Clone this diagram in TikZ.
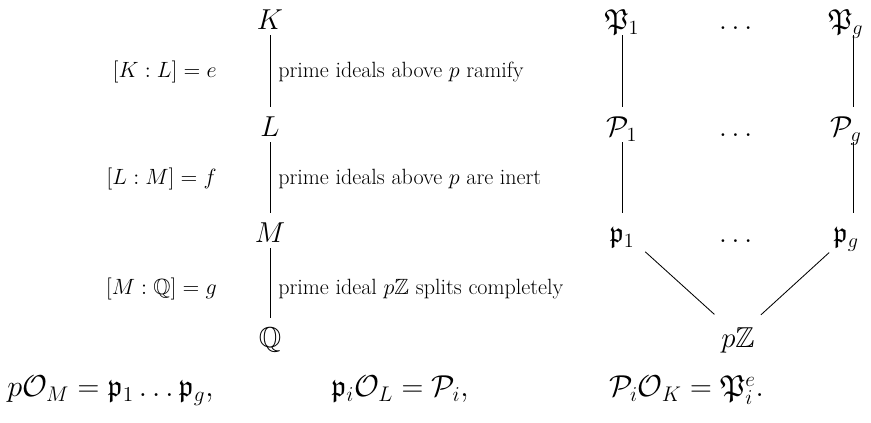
\documentclass[tikz,border=0pt]{standalone}
\usepackage{fix-cm}
\usepackage{amsmath,amssymb}
\usepackage{tikz}

\begin{document}
\begin{tikzpicture}[
    fld/.style={anchor=base, inner sep=3pt, text height=18pt, text depth=0.6pt, font=\fontsize{20.5}{24}\selectfont},
    deg/.style={inner sep=0pt, font=\fontsize{15.7}{18}\selectfont},
    lbl/.style={inner sep=0pt, font=\fontsize{15.7}{18}\selectfont},
    eqn/.style={anchor=base, inner sep=0pt, font=\fontsize{21.5}{25}\selectfont},
    lnk/.style={line width=0.6pt}]
    \useasboundingbox (0,0) rectangle (21.775,10.575);
    % tower of fields
    \node[fld] (K) at (6.75,9.825) {$K$};
    \node[fld] (L) at (6.75,7.15) {$L$};
    \node[fld] (M) at (6.75,4.5) {$M$};
    \node[fld] (Q) at (6.75,1.875) {$\mathbb{Q}$};
    \draw[lnk] (K) -- (L);
    \draw[lnk] (L) -- (M);
    \draw[lnk] (M) -- (Q);
    \node[deg, anchor=east] (eKL) at (5.425,8.775) {$[K:L]=e$};
    \node[deg, anchor=east] (eLM) at (5.425,6.1) {$[L:M]=f$};
    \node[deg, anchor=east] (eMQ) at (5.425,3.35) {$[M:\mathbb{Q}]=g$};
    \node[lbl, anchor=west] (tKL) at (6.95,8.775) {prime ideals above $p$ ramify};
    \node[lbl, anchor=west] (tLM) at (6.95,6.1) {prime ideals above $p$ are inert};
    \node[lbl, anchor=west] (tMQ) at (6.95,3.35) {prime ideal $p\mathbb{Z}$ splits completely};
    % primes above p
    \node[fld] (P1) at (15.55,9.825) {$\mathfrak{P}_1$};
    \node[fld] (Pd) at (18.45,9.825) {$\dots$};
    \node[fld] (Pg) at (21.15,9.825) {$\mathfrak{P}_g$};
    \node[fld] (cP1) at (15.55,7.15) {$\mathcal{P}_1$};
    \node[fld] (cPd) at (18.45,7.15) {$\dots$};
    \node[fld] (cPg) at (21.15,7.15) {$\mathcal{P}_g$};
    \node[fld] (p1) at (15.55,4.5) {$\mathfrak{p}_1$};
    \node[fld] (pd) at (18.45,4.5) {$\dots$};
    \node[fld] (pg) at (21.15,4.5) {$\mathfrak{p}_g$};
    \node[fld] (pZ) at (18.45,1.875) {$p\mathbb{Z}$};
    \draw[lnk] (P1) -- (cP1);
    \draw[lnk] (cP1) -- (p1);
    \draw[lnk] ([xshift=5pt]Pg.south) -- ([xshift=5pt]cPg.north);
    \draw[lnk] ([xshift=5pt]cPg.south) -- ([xshift=5pt]pg.north);
    \draw[lnk, shorten <=6pt, shorten >=4pt] (p1) -- (pZ);
    \draw[lnk, shorten <=23pt, shorten >=3.5pt] ([xshift=5pt]pg.center) -- (pZ);
    % decompositions
    \node[eqn] (eq1) at (2.76,0.65) {$p\mathcal{O}_M = \mathfrak{p}_1 \dots \mathfrak{p}_g,$};
    \node[eqn] (eq2) at (10.0,0.65) {$\mathfrak{p}_i\mathcal{O}_L = \mathcal{P}_i,$};
    \node[eqn] (eq3) at (17.16,0.65) {$\mathcal{P}_i\mathcal{O}_K = \mathfrak{P}_i^e.$};
\end{tikzpicture}
\end{document}
